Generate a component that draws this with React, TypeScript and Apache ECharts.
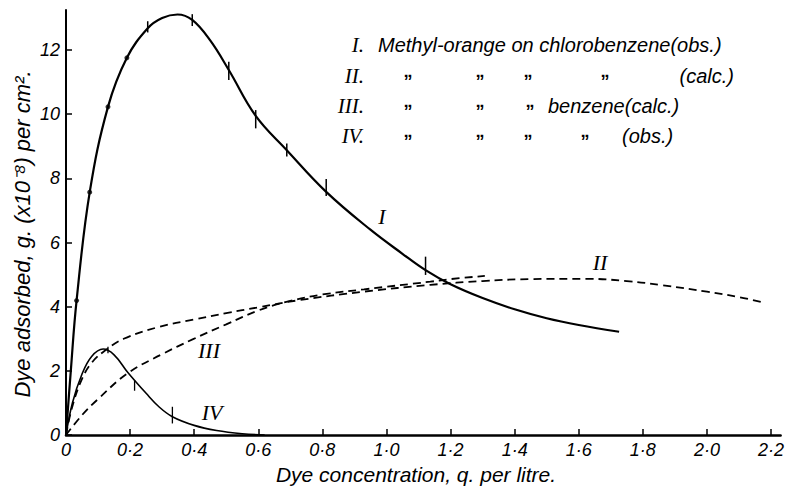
import React, { useEffect, useRef } from "react";
import * as echarts from "echarts";

// Axis ticks
const xTickValues = [0, 0.2, 0.4, 0.6, 0.8, 1.0, 1.2, 1.4, 1.6, 1.8, 2.0, 2.2];
const yTickValues = [0, 2, 4, 6, 8, 10, 12];

// Curve I: Methyl-orange on chlorobenzene (obs.)
const curveI: [number, number][] = [
  [0, 0], [0.015, 2.0], [0.033, 4.19], [0.074, 7.57], [0.131, 10.23], [0.19, 11.76],
  [0.255, 12.68], [0.30, 13.0], [0.348, 13.11], [0.394, 12.94], [0.45, 12.3],
  [0.508, 11.38], [0.592, 9.95], [0.689, 8.88], [0.812, 7.58], [0.95, 6.4],
  [1.05, 5.65], [1.122, 5.14], [1.2, 4.7], [1.3, 4.27], [1.4, 3.92], [1.5, 3.64],
  [1.6, 3.43], [1.726, 3.22],
];
const curveIDots: [number, number][] = [
  [0.033, 4.19], [0.074, 7.57], [0.131, 10.23], [0.19, 11.76],
];
const curveIErrors: [number, number, number][] = [
  [0.255, 12.55, 12.9], [0.394, 12.75, 13.12], [0.508, 11.07, 11.64], [0.592, 9.56, 10.13],
  [0.689, 8.68, 9.09], [0.812, 7.45, 7.98], [1.122, 4.99, 5.56],
];

// Curve II: chlorobenzene (calc.)
const curveII: [number, number][] = [
  [0, 0], [0.02, 0.9], [0.05, 1.75], [0.08, 2.25], [0.12, 2.62], [0.18, 3.0],
  [0.29, 3.37], [0.4, 3.6], [0.5, 3.8], [0.6, 3.98], [0.725, 4.2], [0.93, 4.47],
  [1.137, 4.68], [1.3, 4.8], [1.45, 4.86], [1.62, 4.87], [1.75, 4.8], [1.86, 4.67],
  [2.0, 4.47], [2.1, 4.3], [2.18, 4.12],
];

// Curve III: benzene (calc.)
const curveIII: [number, number][] = [
  [0, 0], [0.05, 0.62], [0.1, 1.12], [0.193, 1.93], [0.3, 2.52], [0.395, 2.98],
  [0.5, 3.45], [0.6, 3.88], [0.7, 4.18], [0.8, 4.38], [0.93, 4.54], [1.137, 4.78],
  [1.2, 4.86], [1.307, 4.96],
];

// Curve IV: benzene (obs.)
const curveIV: [number, number][] = [
  [0, 0], [0.02, 1.0], [0.05, 1.9], [0.08, 2.45], [0.116, 2.68], [0.15, 2.5],
  [0.193, 1.95], [0.25, 1.3], [0.29, 0.88], [0.332, 0.57], [0.4, 0.3], [0.47, 0.14],
  [0.55, 0.04], [0.62, 0],
];
const curveIVErrors: [number, number, number][] = [
  [0.131, 2.55, 2.75], [0.214, 1.38, 1.71], [0.332, 0.36, 0.88],
];

// Texts
const curveLabels = ["I", "II", "III", "IV"];
const legendNumerals = ["I.", "II.", "III.", "IV."];
const legendTexts = [
  "Methyl-orange on chlorobenzene(obs.)",
  "(calc.)",
  "benzene(calc.)",
  "(obs.)",
];
const dittoMark = "\u201E";
const xAxisTitle = "Dye concentration, q. per litre.";
const yAxisTitle = "Dye adsorbed, g. (x10\u207B\u2078) per cm\u00B2.";

const fmtX = (v: number) => (Math.abs(v) < 1e-9 ? "0" : v.toFixed(1).replace(".", "\u00B7"));

export default function App() {
  const ref = useRef<HTMLDivElement>(null);
  useEffect(() => {
    document.body.style.margin = "0";
    if (!ref.current) return;
    const chart = echarts.init(ref.current, undefined, { renderer: "svg" });
    const font = "Liberation Sans";
    const serif = "Liberation Serif";

    const errorRender = (lw: number) => (params: any, api: any) => {
      const p1 = api.coord([api.value(0), api.value(1)]);
      const p2 = api.coord([api.value(0), api.value(2)]);
      return {
        type: "line",
        shape: { x1: p1[0], y1: p1[1], x2: p2[0], y2: p2[1] },
        style: { stroke: "#000", lineWidth: lw },
      };
    };

    const ditto = (x: number, y: number) => ({
      type: "text", x, y,
      style: { text: dittoMark, font: `bold 18px ${font}`, fill: "#000", align: "center", verticalAlign: "middle" },
    });

    const legendRowsY = [45, 76, 106, 136];
    const numStyle = (t: string) => ({ text: t, font: `italic 22px ${serif}`, fill: "#000", align: "center", verticalAlign: "middle" });

    const graphic: any[] = [
      // curve labels
      { type: "text", x: 382, y: 216, style: numStyle(curveLabels[0]) },
      { type: "text", x: 600, y: 262, style: numStyle(curveLabels[1]) },
      { type: "text", x: 209, y: 350, style: numStyle(curveLabels[2]) },
      { type: "text", x: 212, y: 412, style: numStyle(curveLabels[3]) },
      // axis titles
      { type: "text", x: 416, y: 474, style: { text: xAxisTitle, font: `italic 21px ${font}`, fill: "#000", align: "center", verticalAlign: "middle" } },
      { type: "text", x: 22, y: 234, rotation: Math.PI / 2, style: { text: yAxisTitle, font: `italic 22px ${font}`, fill: "#000", align: "center", verticalAlign: "middle" } },
    ];
    // legend numerals
    legendNumerals.forEach((t, i) => {
      graphic.push({ type: "text", x: 364, y: legendRowsY[i], style: { text: t, font: `italic 21px ${serif}`, fill: "#000", align: "right", verticalAlign: "middle" } });
    });
    const legFont = `italic 20px ${font}`;
    graphic.push({ type: "text", x: 378, y: legendRowsY[0], style: { text: legendTexts[0], font: legFont, fill: "#000", align: "left", verticalAlign: "middle" } });
    graphic.push({ type: "text", x: 734, y: legendRowsY[1], style: { text: legendTexts[1], font: legFont, fill: "#000", align: "right", verticalAlign: "middle" } });
    graphic.push({ type: "text", x: 548, y: legendRowsY[2], style: { text: legendTexts[2], font: legFont, fill: "#000", align: "left", verticalAlign: "middle" } });
    graphic.push({ type: "text", x: 622, y: legendRowsY[3], style: { text: legendTexts[3], font: legFont, fill: "#000", align: "left", verticalAlign: "middle" } });
    [408, 480, 528, 605].forEach((x) => graphic.push(ditto(x, legendRowsY[1] - 5)));
    [408, 480, 530].forEach((x) => graphic.push(ditto(x, legendRowsY[2] - 5)));
    [408, 480, 528, 585].forEach((x) => graphic.push(ditto(x, legendRowsY[3] - 5)));

    chart.setOption({
      animation: false,
      backgroundColor: "#fff",
      grid: { left: 66, right: 1, top: 10, bottom: 51, containLabel: false },
      xAxis: {
        type: "value", min: 0, max: 2.23, interval: 0.2,
        axisLine: { lineStyle: { color: "#000", width: 2.5 } },
        axisTick: { inside: true, length: 6, customValues: xTickValues, lineStyle: { color: "#000", width: 1.5 } },
        axisLabel: {
          customValues: xTickValues, formatter: (v: number) => fmtX(v), margin: 6,
          color: "#000", fontFamily: font, fontStyle: "italic", fontSize: 18,
        },
        splitLine: { show: false },
      },
      yAxis: {
        type: "value", min: 0, max: 13.25, interval: 2,
        axisLine: { show: true, lineStyle: { color: "#000", width: 2 } },
        axisTick: { show: true, inside: true, length: 6, customValues: yTickValues, lineStyle: { color: "#000", width: 1.5 } },
        axisLabel: {
          customValues: yTickValues, margin: 6,
          color: "#000", fontFamily: font, fontStyle: "italic", fontSize: 18,
        },
        splitLine: { show: false },
      },
      graphic,
      series: [
        { type: "line", data: curveI, smooth: 0.4, showSymbol: false, lineStyle: { color: "#000", width: 2.2 } },
        { type: "line", data: curveII, smooth: 0.4, showSymbol: false, lineStyle: { color: "#000", width: 1.8, type: [8, 5] } },
        { type: "line", data: curveIII, smooth: 0.4, showSymbol: false, lineStyle: { color: "#000", width: 1.8, type: [8, 5] } },
        { type: "line", data: curveIV, smooth: 0.4, showSymbol: false, lineStyle: { color: "#000", width: 1.6 } },
        { type: "scatter", data: curveIDots, symbolSize: 5, itemStyle: { color: "#000" } },
        { type: "custom", data: curveIErrors, encode: { x: 0, y: [1, 2] }, renderItem: errorRender(1.5) },
        { type: "custom", data: curveIVErrors, encode: { x: 0, y: [1, 2] }, renderItem: errorRender(1.3) },
      ],
    });
    return () => chart.dispose();
  }, []);
  return <div ref={ref} style={{ width: 787, height: 486 }} />;
}
